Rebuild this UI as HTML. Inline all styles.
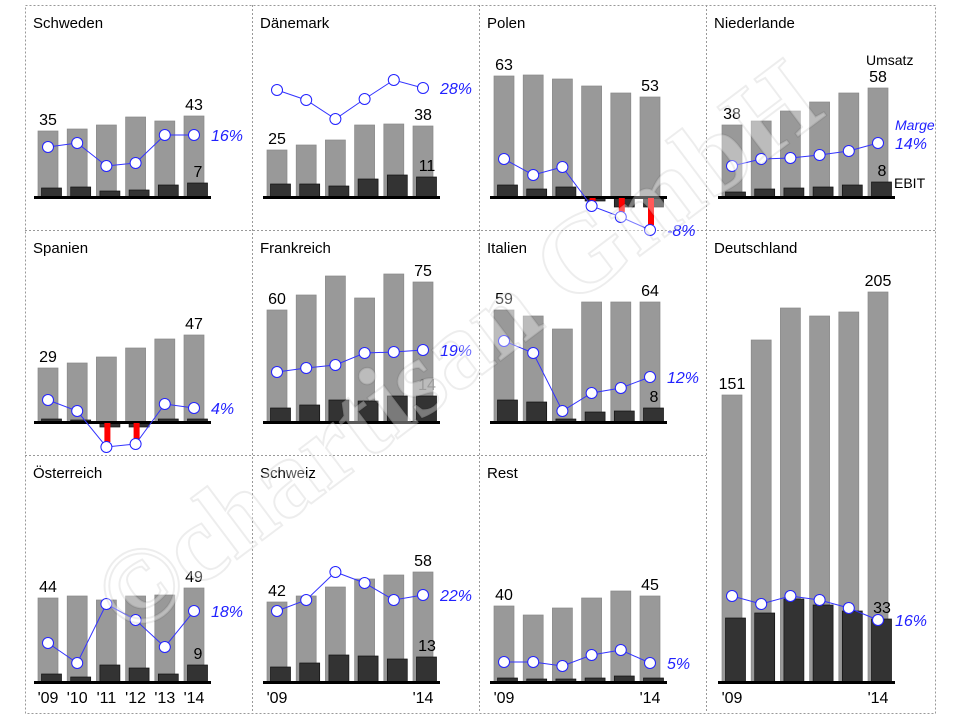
<!DOCTYPE html>
<html><head><meta charset="utf-8"><style>
html,body{margin:0;padding:0;background:#fff;}
svg{display:block;font-family:"Liberation Sans",Arial,sans-serif;}
</style></head><body>
<svg id="s" width="960" height="720" viewBox="0 0 960 720" xmlns="http://www.w3.org/2000/svg"></svg>
<script>
const s=document.getElementById('s');let h='';
const gs='stroke="#999" stroke-width="1" stroke-dasharray="2,2" fill="none"';
h+=`<rect x="25.5" y="5.5" width="910" height="708" ${gs}/>`;
h+=`<line x1="252.5" y1="5" x2="252.5" y2="713" ${gs}/>`;
h+=`<line x1="479.5" y1="5" x2="479.5" y2="713" ${gs}/>`;
h+=`<line x1="706.5" y1="5" x2="706.5" y2="713" ${gs}/>`;
h+=`<line x1="25" y1="230.5" x2="935" y2="230.5" ${gs}/>`;
h+=`<line x1="25" y1="455.5" x2="706" y2="455.5" ${gs}/>`;
const P=[
{t:'Schweden',px:25,py:5,bx:38,b:197,g:[131,129,125,117,121,116],e:[188,187,191,190,185,183],d:[147,143,166,163,135,135],l1:'35',l2:'43',el:'7',m:'16%'},
{t:'Dänemark',px:252,py:5,bx:267,b:197,g:[150,145,140,125,124,126],e:[184,184,186,179,175,177],d:[90,100,119,99,80,88],l1:'25',l2:'38',el:'11',m:'28%'},
{t:'Polen',px:479,py:5,bx:494,b:197,g:[76,75,79,86,93,97],e:[185,189,187,201,207,207],d:[159,175,167,206,217,230],l1:'63',l2:'53',m:'-8%',red:[3,4,5]},
{t:'Niederlande',px:706,py:5,bx:722,b:197,g:[125,121,111,102,93,88],e:[192,189,188,187,185,182],d:[166,159,158,155,151,143],l1:'38',l2:'58',el:'8',m:'14%',nl:1},
{t:'Spanien',px:25,py:230,bx:38,b:422,g:[368,363,357,348,339,335],e:[419,420,427,427,419,419],d:[400,411,447,444,404,408],l1:'29',l2:'47',m:'4%',red:[2,3]},
{t:'Frankreich',px:252,py:230,bx:267,b:422,g:[310,295,276,298,274,282],e:[408,405,400,401,396,396],d:[372,368,365,353,352,350],l1:'60',l2:'75',el:'14',elc:'#666',m:'19%'},
{t:'Italien',px:479,py:230,bx:494,b:422,g:[310,316,329,302,302,302],e:[400,402,419,412,411,408],d:[341,353,411,393,388,377],l1:'59',l2:'64',el:'8',m:'12%'},
{t:'Österreich',px:25,py:455,bx:38,b:682,g:[598,596,600,596,595,588],e:[674,677,665,668,674,665],d:[643,663,604,620,647,611],l1:'44',l2:'49',el:'9',m:'18%',yrs:['\'09','\'10','\'11','\'12','\'13','\'14']},
{t:'Schweiz',px:252,py:455,bx:267,b:682,g:[602,596,587,579,575,572],e:[667,663,655,656,659,657],d:[611,600,572,583,600,595],l1:'42',l2:'58',el:'13',m:'22%',yrs:['\'09','','','','','\'14']},
{t:'Rest',px:479,py:455,bx:494,b:682,g:[606,615,608,598,591,596],e:[678,679,679,678,676,678],d:[662,662,666,655,650,663],l1:'40',l2:'45',m:'5%',yrs:['\'09','','','','','\'14']},
{t:'Deutschland',px:706,py:230,bx:722,b:682,g:[395,340,308,316,312,292],e:[618,613,599,605,611,619],d:[596,604,596,600,608,620],l1:'151',l2:'205',el:'33',m:'16%',yrs:['\'09','','','','','\'14']},
];
const pitch=29.2;
for(const p of P){
 h+=`<text x="${p.px+8}" y="${p.py+23}" font-size="15" fill="#000">${p.t}</text>`;
 const cx=i=>p.bx+i*pitch;
 for(let i=0;i<6;i++){h+=`<rect x="${cx(i)}" y="${p.g[i]}" width="20" height="${p.b-p.g[i]}" fill="#999" stroke="#888" stroke-width="0.7"/>`;}
 for(let i=0;i<6;i++){const y1=Math.min(p.e[i],p.b),y2=Math.max(p.e[i],p.b);h+=`<rect x="${cx(i)+3.5}" y="${y1}" width="20" height="${Math.max(y2-y1,2)}" fill="#333" stroke="#111" stroke-width="0.7"/>`;}
 h+=`<rect x="${p.bx-4}" y="${p.b-1}" width="${5*pitch+31}" height="3" fill="#000"/>`;
 if(p.red)for(const i of p.red){h+=`<rect x="${cx(i)+8}" y="${p.b+1}" width="6" height="${p.d[i]-p.b-6}" fill="#f00"/>`;}
 let pts=p.d.map((y,i)=>`${cx(i)+10},${y}`).join(' ');
 h+=`<polyline points="${pts}" fill="none" stroke="#33f" stroke-width="1"/>`;
 for(let i=0;i<6;i++)h+=`<circle cx="${cx(i)+10}" cy="${p.d[i]}" r="5.5" fill="#fff" stroke="#22f" stroke-width="1"/>`;
 h+=`<text x="${cx(0)+10}" y="${p.g[0]-6}" font-size="16" text-anchor="middle">${p.l1}</text>`;
 h+=`<text x="${cx(5)+10}" y="${p.g[5]-6}" font-size="16" text-anchor="middle">${p.l2}</text>`;
 if(p.el)h+=`<text x="${cx(5)+14}" y="${Math.min(p.e[5],p.b)-6}" font-size="16" text-anchor="middle" fill="${p.elc||'#000'}">${p.el}</text>`;
 h+=`<text x="${cx(5)+27}" y="${p.d[5]+6}" font-size="16" font-style="italic" fill="#22f">${p.m}</text>`;
 if(p.nl){h+=`<text x="${cx(5)-2}" y="65" font-size="14">Umsatz</text>`;h+=`<text x="${cx(5)+27}" y="130" font-size="14" font-style="italic" fill="#22f">Marge</text>`;h+=`<text x="${cx(5)+26}" y="188" font-size="14">EBIT</text>`;}
 if(p.yrs)p.yrs.forEach((y,i)=>{if(y)h+=`<text x="${cx(i)+10}" y="703" font-size="16" text-anchor="middle">${y}</text>`;});
}
h+=`<text x="0" y="0" font-family="Liberation Serif,serif" font-weight="bold" font-size="110" fill="#fff" fill-opacity="0.35" stroke="#000" stroke-opacity="0.07" stroke-width="2" transform="translate(130,640) rotate(-37)">©chartisan GmbH</text>`;
s.innerHTML=h;
</script>
</body></html>
